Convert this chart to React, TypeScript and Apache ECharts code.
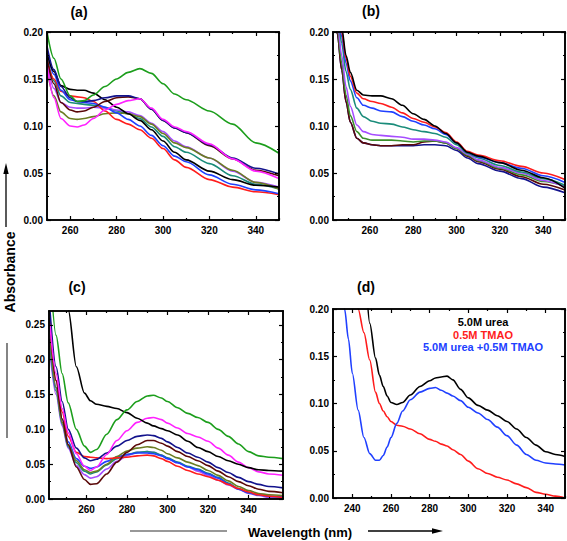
import { useEffect, useRef } from "react";
import * as echarts from "echarts";

// ---------- Panel (a) ----------
const WL_A = [250, 253, 256, 260, 263, 266, 270, 275, 280, 285, 290, 295, 300, 305, 310, 320, 330, 340, 350];
const A_GREEN = [0.2, 0.172, 0.15, 0.132, 0.126, 0.127, 0.133, 0.142, 0.15, 0.157, 0.161, 0.156, 0.145, 0.134, 0.128, 0.116, 0.102, 0.082, 0.071];
const A_NAVY = [0.185, 0.16, 0.142, 0.13, 0.126, 0.126, 0.127, 0.13, 0.132, 0.132, 0.129, 0.118, 0.106, 0.098, 0.093, 0.08, 0.066, 0.055, 0.049];
const A_BLACK = [0.178, 0.158, 0.143, 0.139, 0.138, 0.138, 0.135, 0.128, 0.12, 0.113, 0.106, 0.096, 0.084, 0.072, 0.064, 0.052, 0.043, 0.037, 0.035];
const A_MAROON = [0.172, 0.145, 0.125, 0.117, 0.115, 0.116, 0.12, 0.126, 0.13, 0.131, 0.129, 0.118, 0.106, 0.098, 0.093, 0.079, 0.065, 0.053, 0.047];
const A_MAGENTA = [0.165, 0.13, 0.108, 0.1, 0.099, 0.101, 0.108, 0.117, 0.123, 0.127, 0.129, 0.119, 0.107, 0.099, 0.094, 0.081, 0.065, 0.052, 0.044];
const A_RED = [0.17, 0.15, 0.137, 0.132, 0.131, 0.13, 0.126, 0.116, 0.107, 0.102, 0.096, 0.087, 0.076, 0.064, 0.056, 0.043, 0.035, 0.03, 0.027];
const A_BLUE = [0.18, 0.155, 0.138, 0.128, 0.126, 0.125, 0.124, 0.12, 0.114, 0.107, 0.1, 0.09, 0.079, 0.068, 0.062, 0.048, 0.038, 0.032, 0.028];
const A_OLIVE = [0.16, 0.132, 0.115, 0.108, 0.107, 0.108, 0.11, 0.113, 0.114, 0.113, 0.11, 0.102, 0.092, 0.082, 0.077, 0.066, 0.053, 0.04, 0.033];
const A_PURPLE = [0.168, 0.14, 0.125, 0.12, 0.119, 0.119, 0.12, 0.119, 0.117, 0.115, 0.111, 0.103, 0.094, 0.084, 0.078, 0.066, 0.052, 0.04, 0.035];
const A_TEAL = [0.175, 0.148, 0.132, 0.125, 0.124, 0.123, 0.122, 0.12, 0.116, 0.113, 0.108, 0.099, 0.089, 0.078, 0.072, 0.06, 0.047, 0.038, 0.033];

// ---------- Panel (b) ----------
const WL_B = [243, 245, 247, 249, 251, 254, 257, 261, 265, 270, 275, 280, 285, 290, 295, 300, 305, 310, 320, 330, 340, 350];
const B_BLACK = [0.28, 0.24, 0.205, 0.175, 0.157, 0.138, 0.133, 0.132, 0.132, 0.129, 0.122, 0.113, 0.107, 0.1, 0.092, 0.082, 0.072, 0.068, 0.061, 0.053, 0.045, 0.034];
const B_RED = [0.27, 0.235, 0.2, 0.172, 0.153, 0.135, 0.129, 0.126, 0.124, 0.12, 0.114, 0.108, 0.104, 0.099, 0.093, 0.083, 0.073, 0.069, 0.063, 0.057, 0.05, 0.043];
const B_BLUE = [0.265, 0.23, 0.195, 0.167, 0.148, 0.13, 0.122, 0.119, 0.116, 0.115, 0.11, 0.105, 0.101, 0.097, 0.091, 0.082, 0.072, 0.067, 0.061, 0.055, 0.047, 0.04];
const B_TEAL = [0.26, 0.222, 0.188, 0.158, 0.139, 0.119, 0.11, 0.105, 0.103, 0.102, 0.099, 0.096, 0.094, 0.092, 0.088, 0.08, 0.071, 0.066, 0.058, 0.051, 0.044, 0.037];
const B_PURPLE = [0.25, 0.212, 0.175, 0.142, 0.121, 0.101, 0.094, 0.091, 0.09, 0.089, 0.088, 0.086, 0.086, 0.085, 0.083, 0.077, 0.07, 0.064, 0.056, 0.05, 0.042, 0.035];
const B_GREEN = [0.245, 0.205, 0.167, 0.133, 0.111, 0.094, 0.087, 0.085, 0.085, 0.085, 0.084, 0.083, 0.084, 0.084, 0.082, 0.076, 0.069, 0.063, 0.055, 0.048, 0.041, 0.036];
const B_MAROON = [0.24, 0.198, 0.16, 0.126, 0.104, 0.087, 0.082, 0.08, 0.079, 0.079, 0.08, 0.08, 0.083, 0.084, 0.082, 0.076, 0.068, 0.062, 0.054, 0.046, 0.038, 0.032];
const B_NAVY = [0.24, 0.198, 0.16, 0.126, 0.104, 0.087, 0.082, 0.08, 0.079, 0.079, 0.079, 0.079, 0.08, 0.08, 0.079, 0.074, 0.066, 0.06, 0.052, 0.044, 0.035, 0.029];

// ---------- Panel (c) ----------
const WL_C = [242, 245, 248, 251, 255, 259, 262, 265, 270, 275, 280, 285, 290, 293, 297, 300, 305, 310, 315, 320, 325, 330, 335, 340, 345, 350, 357];
const C_BLACK = [0.5, 0.45, 0.4, 0.272, 0.19, 0.152, 0.141, 0.136, 0.133, 0.13, 0.124, 0.116, 0.109, 0.105, 0.101, 0.098, 0.092, 0.083, 0.074, 0.068, 0.061, 0.055, 0.05, 0.045, 0.042, 0.041, 0.04];
const C_GREEN = [0.33, 0.235, 0.18, 0.138, 0.1, 0.076, 0.067, 0.071, 0.093, 0.114, 0.128, 0.14, 0.148, 0.149, 0.145, 0.14, 0.131, 0.123, 0.117, 0.11, 0.1, 0.09, 0.079, 0.068, 0.062, 0.06, 0.058];
const C_MAGENTA = [0.25, 0.18, 0.13, 0.095, 0.065, 0.047, 0.041, 0.046, 0.064, 0.084, 0.098, 0.11, 0.116, 0.117, 0.114, 0.109, 0.102, 0.094, 0.089, 0.083, 0.073, 0.063, 0.053, 0.045, 0.039, 0.036, 0.034];
const C_NAVY = [0.27, 0.19, 0.14, 0.1, 0.073, 0.059, 0.055, 0.057, 0.066, 0.076, 0.084, 0.09, 0.092, 0.091, 0.087, 0.082, 0.074, 0.066, 0.06, 0.053, 0.045, 0.038, 0.031, 0.025, 0.021, 0.018, 0.016];
const C_RED = [0.26, 0.17, 0.125, 0.09, 0.067, 0.061, 0.06, 0.059, 0.058, 0.059, 0.06, 0.062, 0.063, 0.062, 0.058, 0.054, 0.047, 0.041, 0.036, 0.032, 0.027, 0.021, 0.015, 0.01, 0.006, 0.004, 0.002];
const C_MAROON = [0.25, 0.17, 0.115, 0.078, 0.046, 0.028, 0.021, 0.022, 0.036, 0.053, 0.067, 0.078, 0.084, 0.084, 0.08, 0.076, 0.068, 0.061, 0.055, 0.048, 0.04, 0.032, 0.025, 0.019, 0.014, 0.011, 0.009];
const C_PURPLE = [0.21, 0.15, 0.105, 0.073, 0.048, 0.035, 0.03, 0.032, 0.043, 0.054, 0.062, 0.067, 0.068, 0.067, 0.063, 0.058, 0.052, 0.046, 0.04, 0.034, 0.027, 0.02, 0.014, 0.008, 0.005, 0.002, 0.001];
const C_OLIVE = [0.23, 0.16, 0.11, 0.078, 0.055, 0.042, 0.038, 0.04, 0.05, 0.061, 0.069, 0.073, 0.075, 0.074, 0.07, 0.065, 0.059, 0.053, 0.048, 0.041, 0.034, 0.026, 0.018, 0.012, 0.008, 0.006, 0.005];
const C_TEAL = [0.22, 0.155, 0.108, 0.075, 0.052, 0.04, 0.036, 0.039, 0.049, 0.058, 0.064, 0.067, 0.068, 0.067, 0.063, 0.059, 0.053, 0.047, 0.043, 0.037, 0.031, 0.023, 0.015, 0.009, 0.006, 0.004, 0.003];
const C_BLUE = [0.23, 0.16, 0.115, 0.082, 0.058, 0.047, 0.044, 0.046, 0.054, 0.06, 0.064, 0.066, 0.066, 0.065, 0.062, 0.058, 0.052, 0.046, 0.042, 0.036, 0.03, 0.022, 0.014, 0.009, 0.006, 0.004, 0.003];

// ---------- Panel (d) ----------
const WL_D = [233, 236, 238, 240, 243, 246, 249, 252, 254, 256, 258, 260, 263, 266, 270, 275, 280, 283, 286, 289, 292, 296, 300, 305, 310, 315, 320, 325, 330, 335, 340, 345, 350];
const D_UREA = [0.6, 0.5, 0.45, 0.4, 0.32, 0.25, 0.185, 0.148, 0.13, 0.118, 0.108, 0.101, 0.099, 0.101, 0.109, 0.118, 0.124, 0.127, 0.128, 0.129, 0.125, 0.115, 0.106, 0.098, 0.093, 0.087, 0.081, 0.073, 0.064, 0.056, 0.049, 0.046, 0.044];
const D_TMAO = [0.5, 0.4, 0.33, 0.27, 0.2, 0.175, 0.146, 0.112, 0.1, 0.092, 0.086, 0.081, 0.077, 0.076, 0.073, 0.068, 0.062, 0.06, 0.057, 0.055, 0.051, 0.046, 0.039, 0.031, 0.026, 0.022, 0.019, 0.015, 0.011, 0.006, 0.004, 0.002, 0.0];
const D_MIX = [0.26, 0.2, 0.168, 0.132, 0.093, 0.064, 0.047, 0.04, 0.04, 0.045, 0.054, 0.064, 0.079, 0.092, 0.104, 0.112, 0.116, 0.117, 0.114, 0.111, 0.108, 0.103, 0.096, 0.09, 0.083, 0.075, 0.066, 0.056, 0.046, 0.04, 0.037, 0.036, 0.035];

const LEGEND_D = ["5.0M urea", "0.5M TMAO", "5.0M urea +0.5M TMAO"];
const PANEL_LABELS = ["(a)", "(b)", "(c)", "(d)"];
const X_MAJOR = [240, 260, 280, 300, 320, 340];
const X_MINOR = [250, 270, 290, 310, 330, 350];
const Y_MAJOR = [0, 0.05, 0.1, 0.15, 0.2, 0.25];
const Y_MINOR = [0.025, 0.075, 0.125, 0.175, 0.225];

const COL = {
  green: "#1c9e1c",
  black: "#000000",
  red: "#ff1c1c",
  blue: "#2040ff",
  navy: "#12128c",
  magenta: "#ff22ff",
  maroon: "#5a0808",
  olive: "#6b7d22",
  purple: "#a64dff",
  teal: "#1a8c7a",
  bgreen: "#3c8f2c",
};

const FONT = "'Liberation Sans', Arial, sans-serif";

type S = { panel: number; wl: number[]; v: number[]; color: string };

const SERIES: S[] = [
  { panel: 0, wl: WL_A, v: A_TEAL, color: COL.teal },
  { panel: 0, wl: WL_A, v: A_PURPLE, color: COL.purple },
  { panel: 0, wl: WL_A, v: A_OLIVE, color: COL.olive },
  { panel: 0, wl: WL_A, v: A_RED, color: COL.red },
  { panel: 0, wl: WL_A, v: A_BLUE, color: COL.blue },
  { panel: 0, wl: WL_A, v: A_BLACK, color: COL.black },
  { panel: 0, wl: WL_A, v: A_MAROON, color: COL.maroon },
  { panel: 0, wl: WL_A, v: A_NAVY, color: COL.navy },
  { panel: 0, wl: WL_A, v: A_MAGENTA, color: COL.magenta },
  { panel: 0, wl: WL_A, v: A_GREEN, color: COL.green },
  { panel: 1, wl: WL_B, v: B_NAVY, color: COL.navy },
  { panel: 1, wl: WL_B, v: B_MAROON, color: COL.maroon },
  { panel: 1, wl: WL_B, v: B_GREEN, color: COL.bgreen },
  { panel: 1, wl: WL_B, v: B_PURPLE, color: COL.purple },
  { panel: 1, wl: WL_B, v: B_TEAL, color: COL.teal },
  { panel: 1, wl: WL_B, v: B_BLUE, color: COL.blue },
  { panel: 1, wl: WL_B, v: B_RED, color: COL.red },
  { panel: 1, wl: WL_B, v: B_BLACK, color: COL.black },
  { panel: 2, wl: WL_C, v: C_PURPLE, color: COL.purple },
  { panel: 2, wl: WL_C, v: C_TEAL, color: COL.teal },
  { panel: 2, wl: WL_C, v: C_BLUE, color: COL.blue },
  { panel: 2, wl: WL_C, v: C_OLIVE, color: COL.olive },
  { panel: 2, wl: WL_C, v: C_RED, color: COL.red },
  { panel: 2, wl: WL_C, v: C_MAROON, color: COL.maroon },
  { panel: 2, wl: WL_C, v: C_NAVY, color: COL.navy },
  { panel: 2, wl: WL_C, v: C_MAGENTA, color: COL.magenta },
  { panel: 2, wl: WL_C, v: C_BLACK, color: COL.black },
  { panel: 2, wl: WL_C, v: C_GREEN, color: COL.green },
  { panel: 3, wl: WL_D, v: D_TMAO, color: COL.red },
  { panel: 3, wl: WL_D, v: D_MIX, color: COL.blue },
  { panel: 3, wl: WL_D, v: D_UREA, color: COL.black },
];

const GRIDS = [
  { left: 47, top: 32, width: 232, height: 188, xmin: 250, xmax: 350, ymax: 0.2 },
  { left: 333, top: 32, width: 232, height: 188, xmin: 243, xmax: 350, ymax: 0.2 },
  { left: 49, top: 311, width: 234, height: 188, xmin: 241.5, xmax: 357, ymax: 0.27 },
  { left: 333, top: 309, width: 232, height: 189, xmin: 230, xmax: 350, ymax: 0.2 },
];

function inRange(vals: number[], lo: number, hi: number) {
  return vals.filter((v) => v >= lo - 1e-9 && v <= hi + 1e-9);
}

function buildOption() {
  const xAxis: any[] = [];
  const yAxis: any[] = [];
  const mainX: number[] = [];
  const mainY: number[] = [];
  GRIDS.forEach((g, gi) => {
    const xMaj = inRange(X_MAJOR, g.xmin, g.xmax);
    const xMin = inRange(X_MINOR, g.xmin, g.xmax);
    const yMaj = inRange(Y_MAJOR, 0, g.ymax);
    const yMin = inRange(Y_MINOR, 0, g.ymax);
    const mk = (pos: string, ticks: number[], len: number, labels: boolean, isX: boolean) => ({
      type: "value",
      gridIndex: gi,
      position: pos,
      min: isX ? g.xmin : 0,
      max: isX ? g.xmax : g.ymax,
      axisLine: { show: true, onZero: false, lineStyle: { color: "#000", width: 1.6 } },
      axisTick: { show: true, inside: true, length: len, customValues: ticks, lineStyle: { color: "#000", width: 1.2 } },
      axisLabel: {
        show: labels,
        customValues: ticks,
        color: "#000",
        fontFamily: FONT,
        fontWeight: "bold",
        fontSize: 10,
        margin: isX ? 5 : 4,
        formatter: (v: number) => (isX ? String(Math.round(v)) : v.toFixed(2)),
      },
      splitLine: { show: false },
      z: 5,
    });
    mainX.push(xAxis.length);
    xAxis.push(mk("bottom", xMaj, 4, true, true));
    xAxis.push(mk("bottom", xMin, 2, false, true));
    xAxis.push(mk("top", xMaj, 4, false, true));
    xAxis.push(mk("top", xMin, 2, false, true));
    mainY.push(yAxis.length);
    yAxis.push(mk("left", yMaj, 4, true, false));
    yAxis.push(mk("left", yMin, 2, false, false));
    yAxis.push(mk("right", yMaj, 4, false, false));
    yAxis.push(mk("right", yMin, 2, false, false));
  });

  const series = SERIES.map((s) => ({
    type: "line",
    xAxisIndex: mainX[s.panel],
    yAxisIndex: mainY[s.panel],
    data: s.wl.map((w, i) => [w, s.v[i]]),
    showSymbol: false,
    smooth: 0.3,
    smoothMonotone: "x",
    clip: true,
    lineStyle: { color: s.color, width: 1.6 },
    itemStyle: { color: s.color },
    silent: true,
  }));

  const labelPos = [
    [79, 12],
    [371, 11],
    [77, 287],
    [366, 287],
  ];
  const legendColors = [COL.black, COL.red, COL.blue];
  const legendY = [322, 335, 347];

  const graphic: any[] = [
    ...PANEL_LABELS.map((t, i) => ({
      type: "text",
      x: labelPos[i][0],
      y: labelPos[i][1],
      style: { text: t, fill: "#000", font: `bold 14px ${FONT}`, textAlign: "center", textVerticalAlign: "middle" },
    })),
    ...LEGEND_D.map((t, i) => ({
      type: "text",
      x: 483,
      y: legendY[i],
      style: { text: t, fill: legendColors[i], font: `bold 11px ${FONT}`, textAlign: "center", textVerticalAlign: "middle" },
    })),
    {
      type: "text",
      x: 10,
      y: 272,
      rotation: Math.PI / 2,
      style: { text: "Absorbance", fill: "#000", font: `bold 14px ${FONT}`, textAlign: "center", textVerticalAlign: "middle" },
    },
    { type: "line", shape: { x1: 6, y1: 227, x2: 6, y2: 172 }, style: { stroke: "#000", lineWidth: 1.3 } },
    { type: "polygon", shape: { points: [[6, 163], [3.3, 174], [8.7, 174]] }, style: { fill: "#000" } },
    { type: "line", shape: { x1: 7, y1: 343, x2: 7, y2: 438 }, style: { stroke: "#333", lineWidth: 1.2 } },
    {
      type: "text",
      x: 300,
      y: 532,
      style: { text: "Wavelength (nm)", fill: "#000", font: `bold 13px ${FONT}`, textAlign: "center", textVerticalAlign: "middle" },
    },
    { type: "line", shape: { x1: 130, y1: 531, x2: 227, y2: 531 }, style: { stroke: "#333", lineWidth: 1.2 } },
    { type: "line", shape: { x1: 368, y1: 531, x2: 434, y2: 531 }, style: { stroke: "#000", lineWidth: 1.3 } },
    { type: "polygon", shape: { points: [[443, 531], [432, 528.3], [432, 533.7]] }, style: { fill: "#000" } },
  ];

  return {
    animation: false,
    backgroundColor: "#fff",
    grid: GRIDS.map((g) => ({ left: g.left, top: g.top, width: g.width, height: g.height, containLabel: false })),
    xAxis,
    yAxis,
    series,
    graphic,
  };
}

export default function App() {
  const ref = useRef<HTMLDivElement>(null);
  useEffect(() => {
    if (!ref.current) return;
    const chart = echarts.init(ref.current, undefined, { renderer: "svg" });
    chart.setOption(buildOption() as any);
    return () => chart.dispose();
  }, []);
  return (
    <div
      ref={ref}
      style={{ position: "fixed", left: 0, top: 0, width: 567, height: 541, background: "#fff" }}
    />
  );
}
